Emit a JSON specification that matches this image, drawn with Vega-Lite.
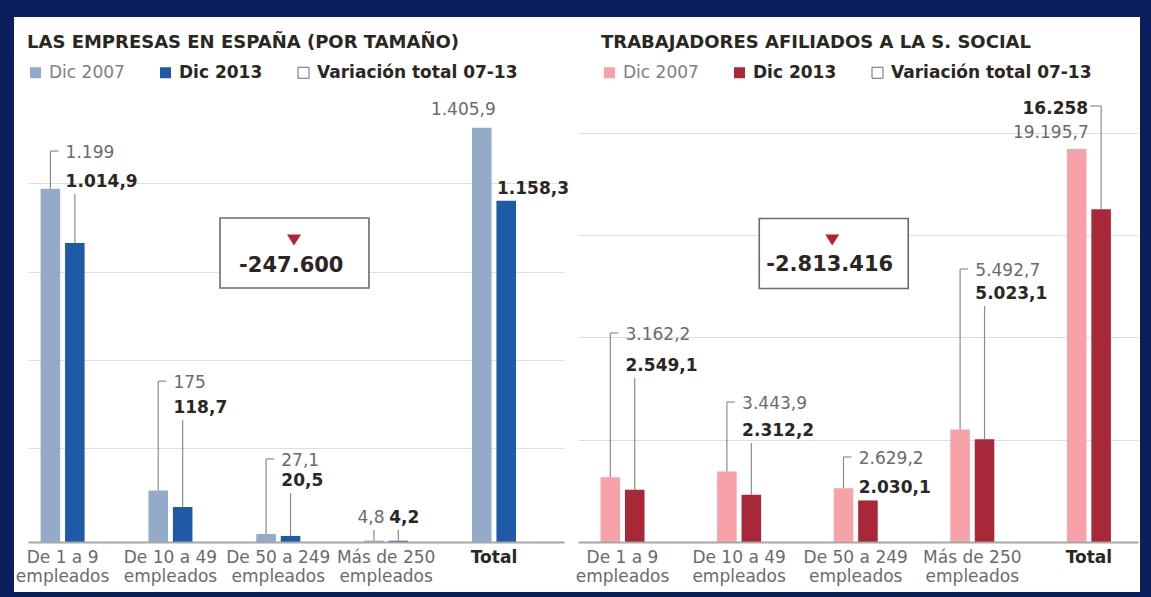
{
  "$schema": "https://vega.github.io/schema/vega-lite/v6.json",
  "background": "#0b1f5c",
  "padding": {"left": 14, "top": 17, "right": 11, "bottom": 5},
  "spacing": 0,
  "config": {
    "font": "DejaVu Sans",
    "view": {"fill": "#ffffff", "stroke": null},
    "concat": {"spacing": 0}
  },
  "datasets": {
    "empresas": [
      {"categoria": "De 1 a 9 empleados", "serie": "Dic 2007", "valor": 1199, "texto": "1.199", "cota": 1327},
      {"categoria": "De 1 a 9 empleados", "serie": "Dic 2013", "valor": 1014.9, "texto": "1.014,9", "cota": 1181},
      {"categoria": "De 10 a 49 empleados", "serie": "Dic 2007", "valor": 175, "texto": "175", "cota": 546},
      {"categoria": "De 10 a 49 empleados", "serie": "Dic 2013", "valor": 118.7, "texto": "118,7", "cota": 414},
      {"categoria": "De 50 a 249 empleados", "serie": "Dic 2007", "valor": 27.1, "texto": "27,1", "cota": 282},
      {"categoria": "De 50 a 249 empleados", "serie": "Dic 2013", "valor": 20.5, "texto": "20,5", "cota": 166},
      {"categoria": "Más de 250 empleados", "serie": "Dic 2007", "valor": 4.8, "texto": "4,8", "cota": 41},
      {"categoria": "Más de 250 empleados", "serie": "Dic 2013", "valor": 4.2, "texto": "4,2", "cota": 41},
      {"categoria": "Total", "serie": "Dic 2007", "valor": 1405.9, "texto": "1.405,9", "cota": 1405.9},
      {"categoria": "Total", "serie": "Dic 2013", "valor": 1158.3, "texto": "1.158,3", "cota": 1158.3}
    ],
    "afiliados": [
      {"categoria": "De 1 a 9 empleados", "serie": "Dic 2007", "valor": 3162.2, "texto": "3.162,2", "cota": 10209},
      {"categoria": "De 1 a 9 empleados", "serie": "Dic 2013", "valor": 2549.1, "texto": "2.549,1", "cota": 8011},
      {"categoria": "De 10 a 49 empleados", "serie": "Dic 2007", "valor": 3443.9, "texto": "3.443,9", "cota": 6838},
      {"categoria": "De 10 a 49 empleados", "serie": "Dic 2013", "valor": 2312.2, "texto": "2.312,2", "cota": 4836},
      {"categoria": "De 50 a 249 empleados", "serie": "Dic 2007", "valor": 2629.2, "texto": "2.629,2", "cota": 4152},
      {"categoria": "De 50 a 249 empleados", "serie": "Dic 2013", "valor": 2030.1, "texto": "2.030,1", "cota": 2030.1},
      {"categoria": "Más de 250 empleados", "serie": "Dic 2007", "valor": 5492.7, "texto": "5.492,7", "cota": 13335},
      {"categoria": "Más de 250 empleados", "serie": "Dic 2013", "valor": 5023.1, "texto": "5.023,1", "cota": 11527},
      {"categoria": "Total", "serie": "Dic 2007", "valor": 19195.7, "texto": "19.195,7", "cota": 19195.7},
      {"categoria": "Total", "serie": "Dic 2013", "valor": 16258, "texto": "16.258", "cota": 21296}
    ]
  },
  "hconcat": [
    {
      "width": 559,
      "height": 575,
      "data": {"name": "empresas"},
      "encoding": {
        "x": {
          "field": "categoria", "type": "nominal", "sort": null,
          "scale": {
            "domain": ["De 1 a 9 empleados", "De 10 a 49 empleados", "De 50 a 249 empleados", "Más de 250 empleados", "Total"],
            "range": [14, 550], "paddingInner": 0.592, "paddingOuter": 0.281, "align": 0.208, "round": false
          },
          "axis": {
            "orient": "bottom", "offset": -50, "title": null, "grid": false,
            "domainColor": "#a6a6a6", "domainWidth": 2, "ticks": false,
            "labelPadding": 7, "labelFontSize": 17, "labelAngle": 0, "labelLineHeight": 19,
            "labelOverlap": false, "labelLimit": 300,
            "labelColor": {"condition": {"test": "datum.value == 'Total'", "value": "#2b2622"}, "value": "#6b6b6b"},
            "labelFontWeight": {"condition": {"test": "datum.value == 'Total'", "value": "bold"}, "value": "normal"},
            "labelExpr": "datum.value == 'Total' ? 'Total' : [replace(datum.value, ' empleados', ''), 'empleados']",
            "zindex": 1
          }
        },
        "y": {
          "field": "valor", "type": "quantitative",
          "scale": {"domain": [0, 1524], "range": [525, 76], "nice": false, "zero": false},
          "axis": {"values": [318, 618, 918, 1218], "grid": true, "gridColor": "#dedede", "gridWidth": 1.2, "labels": false, "ticks": false, "domain": false, "title": null}
        }
      },
      "layer": [
        {
          "mark": {"type": "bar"},
          "encoding": {
            "xOffset": {"field": "serie", "type": "nominal", "scale": {"domain": ["Dic 2007", "Dic 2013"], "paddingInner": 0.2, "paddingOuter": 0}},
            "color": {
              "field": "serie", "type": "nominal",
              "scale": {"domain": ["Dic 2007", "Dic 2013", "Variación total 07-13"], "range": ["#93abc8", "#1f5aa6", "#ffffff"]},
              "legend": {
                "title": "LAS EMPRESAS EN ESPAÑA (POR TAMAÑO)",
                "orient": "none", "legendX": 13, "legendY": 17, "direction": "horizontal", "padding": 0,
                "titleFontSize": 18, "titleFontWeight": "bold", "titleColor": "#2b2622", "titleLimit": 800,
                "titlePadding": 12, "titleAnchor": "start", "titleBaseline": "top",
                "symbolType": "square", "symbolSize": 121, "symbolOpacity": 1, "symbolStrokeWidth": 1,
                "symbolStrokeColor": {"expr": "datum.value == 'Variación total 07-13' ? '#6b6b6b' : null"},
                "labelFontSize": 17, "labelOffset": 5, "labelLimit": 400,
                "labelColor": {"expr": "datum.value == 'Dic 2007' ? '#808080' : '#2b2622'"},
                "labelFontWeight": {"expr": "datum.value == 'Dic 2007' ? 'normal' : 'bold'"},
                "columnPadding": 32
              }
            }
          }
        },
        {
          "transform": [{"filter": "datum.cota > datum.valor"}],
          "mark": {"type": "rule", "color": "#8c8c8c", "strokeWidth": 1.2},
          "encoding": {
            "xOffset": {"field": "serie", "type": "nominal"},
            "y2": {"field": "cota"}
          }
        },
        {
          "transform": [{"filter": "datum.serie == 'Dic 2007' && datum.categoria != 'Más de 250 empleados' && datum.categoria != 'Total'"}],
          "mark": {"type": "point", "shape": "M0,0H1", "size": 256, "filled": false, "stroke": "#8c8c8c", "strokeWidth": 1.2, "opacity": 1},
          "encoding": {
            "xOffset": {"field": "serie", "type": "nominal"},
            "y": {"field": "cota", "type": "quantitative"}
          }
        },
        {
          "transform": [{"filter": "datum.serie == 'Dic 2007' && datum.categoria != 'Más de 250 empleados' && datum.categoria != 'Total'"}],
          "mark": {"type": "text", "align": "left", "baseline": "middle", "dx": 3, "dy": 2, "fontSize": 17, "color": "#6b6b6b"},
          "encoding": {
            "y": {"field": "cota", "type": "quantitative"},
            "text": {"field": "texto"}
          }
        },
        {
          "transform": [{"filter": "datum.serie == 'Dic 2013'"}],
          "mark": {"type": "text", "align": "left", "baseline": "middle", "dx": 3, "dy": -12, "fontSize": 17, "fontWeight": "bold", "color": "#2b2622"},
          "encoding": {
            "y": {"field": "cota", "type": "quantitative"},
            "text": {"field": "texto"}
          }
        },
        {
          "transform": [{"filter": "datum.serie == 'Dic 2007' && datum.categoria == 'Más de 250 empleados'"}],
          "mark": {"type": "text", "align": "center", "baseline": "middle", "dx": -3, "dy": -12, "fontSize": 17, "color": "#6b6b6b"},
          "encoding": {
            "xOffset": {"field": "serie", "type": "nominal"},
            "y": {"field": "cota", "type": "quantitative"},
            "text": {"field": "texto"}
          }
        },
        {
          "transform": [{"filter": "datum.serie == 'Dic 2007' && datum.categoria == 'Total'"}],
          "mark": {"type": "text", "align": "right", "baseline": "middle", "dx": 14, "dy": -18, "fontSize": 17, "color": "#6b6b6b"},
          "encoding": {
            "xOffset": {"field": "serie", "type": "nominal"},
            "text": {"field": "texto"}
          }
        },
        {
          "transform": [{"filter": "datum.serie == 'Dic 2013' && datum.categoria == 'Total'"}],
          "mark": {"type": "point", "shape": "M-0.777,-0.467H1.209V0.467H-0.777Z", "size": 22500, "filled": true, "fill": "#ffffff", "stroke": "#6b6b6b", "strokeWidth": 1.6, "opacity": 1},
          "encoding": {
            "x": {"datum": "De 50 a 249 empleados", "type": "nominal"},
            "y": {"datum": 981, "type": "quantitative"}
          }
        },
        {
          "transform": [{"filter": "datum.serie == 'Dic 2013' && datum.categoria == 'Total'"}],
          "mark": {"type": "point", "shape": "M1.09,-0.69L2.84,-0.69L1.96,0.69Z", "size": 256, "filled": true, "fill": "#b5222e", "strokeWidth": 0, "opacity": 1},
          "encoding": {
            "x": {"datum": "De 50 a 249 empleados", "type": "nominal"},
            "y": {"datum": 1025, "type": "quantitative"}
          }
        },
        {
          "transform": [{"filter": "datum.serie == 'Dic 2013' && datum.categoria == 'Total'"}],
          "mark": {"type": "text", "align": "center", "baseline": "middle", "dx": 13, "fontSize": 21, "fontWeight": "bold", "color": "#2b2622", "text": "-247.600"},
          "encoding": {
            "x": {"datum": "De 50 a 249 empleados", "type": "nominal"},
            "y": {"datum": 937, "type": "quantitative"}
          }
        }
      ]
    },
    {
      "width": 567,
      "height": 575,
      "data": {"name": "afiliados"},
      "encoding": {
        "x": {
          "field": "categoria", "type": "nominal", "sort": null,
          "scale": {
            "domain": ["De 1 a 9 empleados", "De 10 a 49 empleados", "De 50 a 249 empleados", "Más de 250 empleados", "Total"],
            "range": [5, 565], "paddingInner": 0.6226, "paddingOuter": 0.2127, "align": 0.454, "round": false
          },
          "axis": {
            "orient": "bottom", "offset": -50, "title": null, "grid": false,
            "domainColor": "#a6a6a6", "domainWidth": 2, "ticks": false,
            "labelPadding": 7, "labelFontSize": 17, "labelAngle": 0, "labelLineHeight": 19,
            "labelOverlap": false, "labelLimit": 300,
            "labelColor": {"condition": {"test": "datum.value == 'Total'", "value": "#2b2622"}, "value": "#6b6b6b"},
            "labelFontWeight": {"condition": {"test": "datum.value == 'Total'", "value": "bold"}, "value": "normal"},
            "labelExpr": "datum.value == 'Total' ? 'Total' : [replace(datum.value, ' empleados', ''), 'empleados']",
            "zindex": 1
          }
        },
        "y": {
          "field": "valor", "type": "quantitative",
          "scale": {"domain": [0, 21931], "range": [525, 76], "nice": false, "zero": false},
          "axis": {"values": [5000, 10000, 15000, 20000], "grid": true, "gridColor": "#dedede", "gridWidth": 1.2, "labels": false, "ticks": false, "domain": false, "title": null}
        }
      },
      "layer": [
        {
          "mark": {"type": "bar"},
          "encoding": {
            "xOffset": {"field": "serie", "type": "nominal", "scale": {"domain": ["Dic 2007", "Dic 2013"], "paddingInner": 0.2, "paddingOuter": 0}},
            "color": {
              "field": "serie", "type": "nominal",
              "scale": {"domain": ["Dic 2007", "Dic 2013", "Variación total 07-13"], "range": ["#f7a2a8", "#a8283a", "#ffffff"]},
              "legend": {
                "title": "TRABAJADORES AFILIADOS A LA S. SOCIAL",
                "orient": "none", "legendX": 28, "legendY": 17, "direction": "horizontal", "padding": 0,
                "titleFontSize": 18, "titleFontWeight": "bold", "titleColor": "#2b2622", "titleLimit": 800,
                "titlePadding": 12, "titleAnchor": "start", "titleBaseline": "top",
                "symbolType": "square", "symbolSize": 121, "symbolOpacity": 1, "symbolStrokeWidth": 1,
                "symbolStrokeColor": {"expr": "datum.value == 'Variación total 07-13' ? '#6b6b6b' : null"},
                "labelFontSize": 17, "labelOffset": 5, "labelLimit": 400,
                "labelColor": {"expr": "datum.value == 'Dic 2007' ? '#808080' : '#2b2622'"},
                "labelFontWeight": {"expr": "datum.value == 'Dic 2007' ? 'normal' : 'bold'"},
                "columnPadding": 32
              }
            }
          }
        },
        {
          "transform": [{"filter": "datum.cota > datum.valor"}],
          "mark": {"type": "rule", "color": "#8c8c8c", "strokeWidth": 1.2},
          "encoding": {
            "xOffset": {"field": "serie", "type": "nominal"},
            "y2": {"field": "cota"}
          }
        },
        {
          "transform": [{"filter": "datum.serie == 'Dic 2007' && datum.categoria != 'Total'"}],
          "mark": {"type": "point", "shape": "M0,0H1", "size": 256, "filled": false, "stroke": "#8c8c8c", "strokeWidth": 1.2, "opacity": 1},
          "encoding": {
            "xOffset": {"field": "serie", "type": "nominal"},
            "y": {"field": "cota", "type": "quantitative"}
          }
        },
        {
          "transform": [{"filter": "datum.serie == 'Dic 2013' && datum.categoria == 'Total'"}],
          "mark": {"type": "point", "shape": "M0,0H-1", "size": 484, "filled": false, "stroke": "#8c8c8c", "strokeWidth": 1.2, "opacity": 1},
          "encoding": {
            "xOffset": {"field": "serie", "type": "nominal"},
            "y": {"field": "cota", "type": "quantitative"}
          }
        },
        {
          "transform": [{"filter": "datum.serie == 'Dic 2007' && datum.categoria != 'Total'"}],
          "mark": {"type": "text", "align": "left", "baseline": "middle", "dx": 3, "dy": 2, "fontSize": 17, "color": "#6b6b6b"},
          "encoding": {
            "y": {"field": "cota", "type": "quantitative"},
            "text": {"field": "texto"}
          }
        },
        {
          "transform": [{"filter": "datum.serie == 'Dic 2013' && datum.categoria != 'Total'"}],
          "mark": {"type": "text", "align": "left", "baseline": "middle", "dx": 3, "dy": -12, "fontSize": 17, "fontWeight": "bold", "color": "#2b2622"},
          "encoding": {
            "y": {"field": "cota", "type": "quantitative"},
            "text": {"field": "texto"}
          }
        },
        {
          "transform": [{"filter": "datum.serie == 'Dic 2007' && datum.categoria == 'Total'"}],
          "mark": {"type": "text", "align": "right", "baseline": "middle", "dx": 12, "dy": -16, "fontSize": 17, "color": "#6b6b6b"},
          "encoding": {
            "xOffset": {"field": "serie", "type": "nominal"},
            "text": {"field": "texto"}
          }
        },
        {
          "transform": [{"filter": "datum.serie == 'Dic 2013' && datum.categoria == 'Total'"}],
          "mark": {"type": "text", "align": "right", "baseline": "middle", "dx": -13, "dy": 3, "fontSize": 17, "fontWeight": "bold", "color": "#2b2622"},
          "encoding": {
            "xOffset": {"field": "serie", "type": "nominal"},
            "y": {"field": "cota", "type": "quantitative"},
            "text": {"field": "texto"}
          }
        },
        {
          "transform": [{"filter": "datum.serie == 'Dic 2013' && datum.categoria == 'Total'"}],
          "mark": {"type": "point", "shape": "M-1.286,-0.467H0.7V0.467H-1.286Z", "size": 22500, "filled": true, "fill": "#ffffff", "stroke": "#6b6b6b", "strokeWidth": 1.6, "opacity": 1},
          "encoding": {
            "x": {"datum": "De 50 a 249 empleados", "type": "nominal"},
            "y": {"datum": 14092, "type": "quantitative"}
          }
        },
        {
          "transform": [{"filter": "datum.serie == 'Dic 2013' && datum.categoria == 'Total'"}],
          "mark": {"type": "point", "shape": "M-3.81,-0.69L-2.06,-0.69L-2.94,0.69Z", "size": 256, "filled": true, "fill": "#b5222e", "strokeWidth": 0, "opacity": 1},
          "encoding": {
            "x": {"datum": "De 50 a 249 empleados", "type": "nominal"},
            "y": {"datum": 14751, "type": "quantitative"}
          }
        },
        {
          "transform": [{"filter": "datum.serie == 'Dic 2013' && datum.categoria == 'Total'"}],
          "mark": {"type": "text", "align": "center", "baseline": "middle", "dx": -26, "fontSize": 21, "fontWeight": "bold", "color": "#2b2622", "text": "-2.813.416"},
          "encoding": {
            "x": {"datum": "De 50 a 249 empleados", "type": "nominal"},
            "y": {"datum": 13506, "type": "quantitative"}
          }
        }
      ]
    }
  ],
  "resolve": {"scale": {"color": "independent", "x": "independent", "y": "independent", "xOffset": "independent"}, "legend": {"color": "independent"}}
}
